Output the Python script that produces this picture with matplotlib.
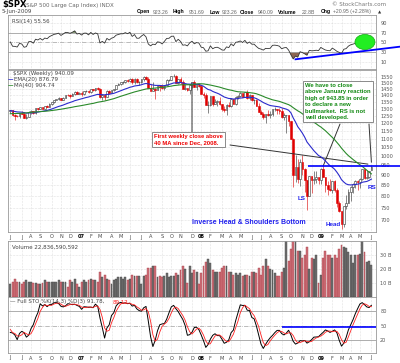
import numpy as np
import pandas as pd
import matplotlib
matplotlib.use('Agg')
import matplotlib.pyplot as plt
from matplotlib.patches import Ellipse
from matplotlib.ticker import NullLocator

plt.rcParams['font.family'] = 'DejaVu Sans'
plt.rcParams['axes.linewidth'] = 0.6

# ---------------- data (weekly) ----------------
# closes before the visible window, only used to warm up EMA/MA/RSI/STO
warm_close = [1234, 1226, 1230, 1220, 1205, 1235, 1241, 1237, 1215, 1229, 1196, 1187,
              1179, 1198, 1220, 1235, 1249, 1268, 1265, 1259, 1267, 1268, 1248, 1285,
              1287, 1261, 1283, 1264, 1266, 1287, 1289, 1287, 1282, 1307, 1302, 1295,
              1296, 1289, 1311, 1310, 1326, 1292, 1267, 1280]
warm_high = [1287, 1275, 1289, 1294, 1297, 1288, 1310, 1310, 1306, 1310, 1296, 1318,
             1316, 1327, 1326, 1292, 1284]
warm_low = [1261, 1254, 1260, 1280, 1278, 1269, 1280, 1295, 1290, 1290, 1280, 1280,
            1298, 1303, 1290, 1259, 1245]

first_week = '2006-06-02'

opens = [1280, 1288, 1252, 1251, 1245, 1270, 1265, 1236, 1240, 1278, 1280, 1266, 1302, 1296, 1311, 1299,
         1319, 1314, 1336, 1349, 1362, 1368, 1377, 1364, 1380, 1401, 1400, 1396, 1409, 1427, 1410,
         1418, 1409, 1430, 1431, 1422, 1449, 1438, 1456, 1451, 1387, 1402, 1386, 1436, 1421, 1443, 1453,
         1484, 1494, 1505, 1505, 1522, 1515, 1536, 1507, 1533, 1503, 1503, 1530, 1553, 1534, 1459, 1433,
         1453, 1445, 1479, 1474, 1454, 1484, 1525, 1527, 1557, 1561, 1501, 1535, 1509, 1453, 1458, 1441,
         1481, 1504, 1467, 1484,
         1478, 1411, 1401, 1325, 1330, 1395, 1331, 1349, 1353, 1331, 1294, 1288, 1330, 1316, 1370, 1333,
         1390, 1398, 1414, 1389, 1426, 1376, 1400, 1361, 1361, 1318, 1278, 1262, 1239, 1261, 1257, 1260,
         1296, 1298, 1293, 1283, 1242, 1252, 1255, 1213, 1099, 899, 940, 877, 968, 930, 873, 800,
         896, 876, 879, 887,
         873, 932, 890, 850, 832, 826, 869, 827, 770, 735, 683, 757, 769, 816, 843, 857,
         870, 866, 877, 929, 883, 887, 923]
highs = [1290, 1290, 1261, 1258, 1272, 1280, 1274, 1261, 1280, 1290, 1281, 1304, 1306, 1312, 1314, 1322,
         1329, 1340, 1352, 1366, 1372, 1389, 1381, 1384, 1403, 1407, 1407, 1415, 1431, 1430, 1427,
         1430, 1431, 1441, 1441, 1449, 1453, 1457, 1462, 1456, 1410, 1410, 1438, 1439, 1444, 1453, 1484,
         1498, 1510, 1513, 1523, 1529, 1540, 1540, 1538, 1540, 1517, 1532, 1556, 1556, 1547, 1489, 1503,
         1456, 1480, 1481, 1492, 1485, 1530, 1531, 1561, 1576, 1565, 1536, 1552, 1520, 1493, 1461, 1488,
         1508, 1523, 1486, 1499,
         1478, 1422, 1416, 1355, 1396, 1396, 1370, 1363, 1388, 1336, 1321, 1335, 1350, 1380, 1374, 1395,
         1399, 1422, 1416, 1426, 1440, 1406, 1404, 1370, 1370, 1341, 1290, 1277, 1262, 1290, 1284, 1297,
         1313, 1300, 1303, 1303, 1266, 1256, 1255, 1215, 1102, 1006, 985, 984, 1007, 934, 875, 896,
         896, 918, 918, 887,
         934, 944, 890, 871, 877, 870, 875, 835, 780, 736, 758, 803, 833, 845, 859, 876,
         876, 882, 930, 930, 924, 920, 952]
lows = [1268, 1250, 1219, 1238, 1237, 1261, 1235, 1224, 1240, 1265, 1261, 1265, 1290, 1295, 1294, 1298,
        1309, 1314, 1327, 1344, 1360, 1366, 1360, 1360, 1376, 1396, 1378, 1394, 1405, 1410, 1406,
        1397, 1403, 1425, 1416, 1420, 1433, 1431, 1445, 1381, 1364, 1364, 1385, 1414, 1416, 1433, 1451,
        1479, 1482, 1491, 1498, 1505, 1510, 1490, 1492, 1501, 1484, 1500, 1513, 1526, 1458, 1433, 1430,
        1370, 1445, 1432, 1452, 1439, 1476, 1515, 1520, 1546, 1500, 1490, 1492, 1453, 1441, 1437, 1406,
        1460, 1467, 1445, 1467,
        1411, 1380, 1324, 1271, 1322, 1316, 1331, 1321, 1330, 1283, 1277, 1257, 1312, 1312, 1331, 1324,
        1370, 1386, 1383, 1387, 1373, 1362, 1359, 1335, 1317, 1278, 1260, 1225, 1200, 1250, 1234, 1248,
        1283, 1261, 1262, 1236, 1217, 1133, 1180, 1097, 840, 866, 859, 845, 899, 818, 741, 798,
        815, 853, 861, 857,
        857, 888, 818, 805, 821, 812, 818, 754, 731, 667, 672, 746, 768, 779, 814, 835,
        826, 836, 872, 878, 879, 882, 923]
closes = [1288, 1252, 1251, 1245, 1270, 1265, 1236, 1240, 1278, 1280, 1266, 1302, 1296, 1311, 1299, 1319,
          1314, 1336, 1349, 1362, 1368, 1377, 1364, 1380, 1401, 1400, 1396, 1409, 1427, 1410, 1418,
          1409, 1430, 1431, 1422, 1449, 1438, 1456, 1451, 1387, 1402, 1386, 1436, 1421, 1443, 1453, 1484,
          1494, 1505, 1505, 1522, 1515, 1536, 1507, 1533, 1503, 1503, 1530, 1553, 1534, 1459, 1433, 1453,
          1445, 1479, 1474, 1454, 1484, 1525, 1527, 1557, 1561, 1501, 1535, 1509, 1453, 1458, 1441, 1481,
          1504, 1467, 1484, 1478,
          1411, 1401, 1325, 1330, 1395, 1331, 1349, 1353, 1331, 1294, 1288, 1330, 1316, 1370, 1333, 1390,
          1398, 1414, 1389, 1426, 1376, 1400, 1361, 1361, 1318, 1278, 1262, 1239, 1261, 1257, 1260, 1296,
          1298, 1293, 1283, 1242, 1252, 1255, 1213, 1099, 899, 940, 877, 968, 930, 873, 800, 896,
          876, 879, 887, 873,
          932, 890, 850, 832, 826, 869, 827, 770, 735, 683, 757, 769, 816, 843, 857, 870,
          866, 877, 929, 883, 887, 919, 940]
volume_b = [9, 11, 13, 11, 11, 9, 11, 12, 11, 11, 10, 10, 9, 9, 10, 12, 11, 11, 11, 11, 11, 12, 11, 11,
            11, 7, 12, 11, 13, 9, 7,
            11, 12, 11, 12, 13, 12, 12, 11, 18, 14, 16, 13, 12, 9, 12, 13, 14, 14, 13, 14, 12, 13, 16, 15,
            15, 15, 9, 15, 16, 21, 21, 22, 22, 14, 15, 14, 15, 17, 14, 15, 15, 17, 16, 19, 22, 20, 10, 22,
            17, 19, 18, 9,
            17, 22, 25, 27, 24, 19, 18, 18, 18, 21, 22, 22, 18, 18, 16, 17, 16, 17, 15, 16, 16, 15, 18, 18,
            17, 21, 16, 22, 27, 22, 20, 19, 17, 15, 15, 18, 21, 41, 26, 34, 55, 43, 33, 33, 28, 30, 36, 20,
            28, 27, 30, 10,
            16, 28, 33, 30, 30, 28, 30, 28, 34, 37, 36, 35, 32, 30, 24, 30, 30, 31, 40, 32, 25, 26, 23]

neckline = 943.85          # January 2009 reaction high
sto_line = 46
rsi_trend_x = [124, 169.4]
rsi_trend_y = [15.5, 41.4]
price_ticks = list(range(700, 1551, 50))

# ---------------- indicators ----------------
n = len(closes)
all_close = pd.Series(warm_close + closes, dtype=float)
nw = len(warm_close)
ema20 = all_close.ewm(span=20, adjust=False).mean().to_numpy()[nw:]
ma40 = all_close.rolling(40).mean().to_numpy()[nw:]
delta = all_close.diff()
gain = delta.clip(lower=0).ewm(alpha=1 / 14, adjust=False).mean()
loss = (-delta.clip(upper=0)).ewm(alpha=1 / 14, adjust=False).mean()
rsi = (100 - 100 / (1 + gain / loss)).to_numpy()[nw:]

hi = pd.Series(warm_high + highs, dtype=float)
lo = pd.Series(warm_low + lows, dtype=float)
cl = all_close.iloc[-len(hi):].reset_index(drop=True)
fast_k = 100 * (cl - lo.rolling(14).min()) / (hi.rolling(14).max() - lo.rolling(14).min())
full_k = fast_k.rolling(3).mean()
full_d = full_k.rolling(3).mean()
full_k = full_k.to_numpy()[len(warm_high):]
full_d = full_d.to_numpy()[len(warm_high):]

x = np.arange(n)
o = np.array(opens, float)
h = np.array(highs, float)
l = np.array(lows, float)
c = np.array(closes, float)
up = c >= o
vol_up = np.diff(all_close.to_numpy())[-n:] >= 0

dates = pd.date_range(first_week, periods=n, freq='7D')
month_pos, month_lab = [], []
for i, d in enumerate(dates):
    if i == 0 or d.month != dates[i - 1].month:
        month_pos.append(i)
        month_lab.append(d.strftime('%y') if d.month == 1 else d.strftime('%b')[0])

# ---------------- layout ----------------
W, H = 400, 363
fig = plt.figure(figsize=(W / 100, H / 100), dpi=100)


def box(top, bottom, left=8, right=376):
    return [left / W, 1 - bottom / H, (right - left) / W, (bottom - top) / H]


def fp(px, py):
    return (px / W, 1 - py / H)


ax_r = fig.add_axes(box(15, 69))
ax_p = fig.add_axes(box(70, 232))
ax_v = fig.add_axes(box(241, 297))
ax_s = fig.add_axes(box(297, 353))

grid_kw = dict(color='#c8c8c8', lw=0.4, ls=':')
for ax in (ax_r, ax_p, ax_v, ax_s):
    ax.set_xlim(-1, 159)
    for sp in ax.spines.values():
        sp.set_color('#999999')
    ax.yaxis.tick_right()
    ax.tick_params(axis='y', which='both', length=0, labelsize=3.6, labelcolor='#555555', pad=3)
    ax.tick_params(axis='x', length=0, labelsize=3.6, labelcolor='#444444', pad=1.8)
    ax.set_xticks(month_pos)
    ax.set_xticklabels(month_lab)
    for t in ax.get_xticklabels():
        if t.get_text().isdigit():
            t.set_fontweight('bold')
            t.set_color('#000000')
    ax.grid(axis='x', **grid_kw)
    ax.set_axisbelow(True)
ax_r.tick_params(axis='x', labelbottom=False)
ax_v.tick_params(axis='x', labelbottom=False)

# ---- RSI ----
ax_r.set_ylim(-4.4, 106.4)
ax_r.set_yticks([10, 30, 50, 70, 90])
for lvl in (10, 90):
    ax_r.axhline(lvl, **grid_kw)
for lvl in (30, 70):
    ax_r.axhline(lvl, color='#a0a0a0', lw=0.6)
ax_r.axhline(50, color='#a0a0a0', lw=0.5, ls='-.')
ax_r.fill_between(x, rsi, 30, where=rsi < 30, interpolate=True, color='#8c6652', lw=0)
ax_r.fill_between(x, rsi, 70, where=rsi > 70, interpolate=True, color='#5c7a45', lw=0)
ax_r.plot(x, rsi, color='#333333', lw=0.6)
ax_r.plot(rsi_trend_x, rsi_trend_y, color='#0000ff', lw=1.3, clip_on=False, zorder=6)
ax_r.add_patch(Ellipse((154.2, 51), 8.7, 31, fc='#22ee22', ec='#11aa11', lw=0.5, zorder=7))
ax_r.text(0.012, 0.93, 'RSI(14) 55.56', transform=ax_r.transAxes, fontsize=4,
          color='#444444', va='top')

# ---- price ----
ax_p.set_yscale('log')
ax_p.set_ylim(655, 1611)
ax_p.set_yticks(price_ticks)
ax_p.set_yticklabels([str(t) for t in price_ticks])
ax_p.yaxis.set_minor_locator(NullLocator())
ax_p.grid(axis='y', **grid_kw)
ax_p.vlines(x, l, h, colors=np.where(up, '#555555', '#e03030'), lw=0.5, zorder=2)
ax_p.bar(x, np.maximum(np.abs(c - o), 0.5), bottom=np.minimum(o, c), width=0.75,
         color=np.where(up, 'white', '#e00000'), edgecolor=np.where(up, '#333333', '#e00000'),
         lw=0.4, zorder=3)
ax_p.plot(x, ema20, color='#2a2acc', lw=0.8, zorder=4)
ax_p.plot(x, ma40, color='#2a8a2a', lw=0.8, zorder=4)
ax_p.hlines(neckline, 129.5, 169.4, color='#0000ff', lw=1.2, clip_on=False, zorder=5)

fig.text(*fp(13, 74), '$SPX (Weekly) 940.09', fontsize=4, color='#444444', va='center')
fig.text(*fp(8, 80), '—', fontsize=4, color='#2a2acc', va='center', weight='bold')
fig.text(*fp(14, 80), 'EMA(20) 876.79', fontsize=4, color='#444444', va='center')
fig.text(*fp(8, 86), '—', fontsize=4, color='#2a8a2a', va='center', weight='bold')
fig.text(*fp(14, 86), 'MA(40) 904.74', fontsize=4, color='#444444', va='center')

ann = dict(family='Liberation Sans', weight='bold', fontsize=4.2, linespacing=1.35)
fig.text(*fp(154, 139.5), 'First weekly close above\n40 MA since Dec, 2008.', color='#ee0000',
         va='center', ha='left',
         bbox=dict(boxstyle='square,pad=0.35', fc='white', ec='#777777', lw=0.6), **ann)
fig.text(*fp(305, 101.5),
         'We have to close\nabove January reaction\nhigh of 943.85 in order\nto declare a new\n'
         'bullmarket.  RS is not\nwell developed.', color='#118811', va='center', ha='left',
         bbox=dict(boxstyle='square,pad=0.35', fc='white', ec='#777777', lw=0.6), **ann)

line_kw = dict(arrowstyle='-', color='#333333', lw=0.7, shrinkA=0, shrinkB=0)
ax_p.annotate('', xy=(79, 1500), xytext=fp(192, 132), textcoords='figure fraction', arrowprops=line_kw)
ax_p.annotate('', xy=(155.5, 955), xytext=fp(230, 145), textcoords='figure fraction', arrowprops=line_kw)
ax_p.annotate('', xy=(136, 944), xytext=fp(340, 124), textcoords='figure fraction', arrowprops=line_kw)
ax_p.annotate('', xy=(157, 965), xytext=fp(369, 124), textcoords='figure fraction', arrowprops=line_kw)

blue = dict(family='Liberation Sans', weight='bold', color='#2222ee', ha='center', va='center')
ax_p.text(126.5, 790, 'LS', fontsize=4.5, **blue)
ax_p.text(140.5, 682, 'Head', fontsize=4.5, **blue)
ax_p.text(157.3, 839, 'RS', fontsize=4.5, **blue)
ax_p.text(103.8, 692, 'Inverse Head & Shoulders Bottom', fontsize=5, **blue)

# ---- volume ----
ax_v.set_ylim(0, 40)
ax_v.set_yticks([10, 20, 30])
ax_v.set_yticklabels(['10 B', '20 B', '30 B'])
ax_v.grid(axis='y', **grid_kw)
ax_v.bar(x, volume_b, width=0.8, color=np.where(vol_up, '#707070', '#d0707a'),
         edgecolor=np.where(vol_up, '#444444', '#a84048'), lw=0.3)
ax_v.text(0.012, 0.93, 'Volume 22,836,590,592', transform=ax_v.transAxes, fontsize=4,
          color='#444444', va='top')

# ---- full stochastics ----
ax_s.set_ylim(-6.9, 109)
ax_s.set_yticks([20, 50, 80])
for lvl in (20, 80):
    ax_s.axhline(lvl, color='#a0a0a0', lw=0.6)
ax_s.axhline(50, color='#a0a0a0', lw=0.5, ls='-.')
ax_s.plot(x, full_k, color='black', lw=0.7)
ax_s.plot(x, full_d, color='#ff2020', lw=0.6)
ax_s.hlines(sto_line, 118, 159, color='#0000ff', lw=1.2, zorder=5)
fig.text(*fp(10, 302), '— Full STO %K(14,3) %D(3) 91.78,', fontsize=4, color='#444444', va='center')
fig.text(*fp(113, 302), '89.12', fontsize=4, color='#ff2020', va='center')

# ---- header ----
fig.text(*fp(2, 5), '$SPX', fontsize=6, weight='bold', va='center')
fig.text(*fp(24, 5), '(S&P 500 Large Cap Index) INDX', fontsize=4, color='#666666', va='center')
fig.text(*fp(2, 12), '5-Jun-2009', fontsize=4, color='#444444', va='center')
fig.text(*fp(332, 5), '© StockCharts.com', fontsize=4, color='#777777', va='center')
hdr = [(137, 'Open', True), (153, '923.26', False), (173, 'High', True), (189, '951.69', False),
       (210, 'Low', True), (222, '923.26', False), (240, 'Close', True), (258, '940.09', False),
       (278, 'Volume', True), (302, '22.8B', False), (321, 'Chg', True),
       (333, '+20.95 (+2.28%)', False)]
for px, s, bold in hdr:
    fig.text(*fp(px, 12), s, fontsize=3.7, va='center', family='Liberation Sans',
             weight='bold' if bold else 'normal', color='#000000' if bold else '#666666')
fig.text(*fp(378, 12), '▲', fontsize=3, va='center', color='#333333')

fig.savefig('out.png', dpi=100)
